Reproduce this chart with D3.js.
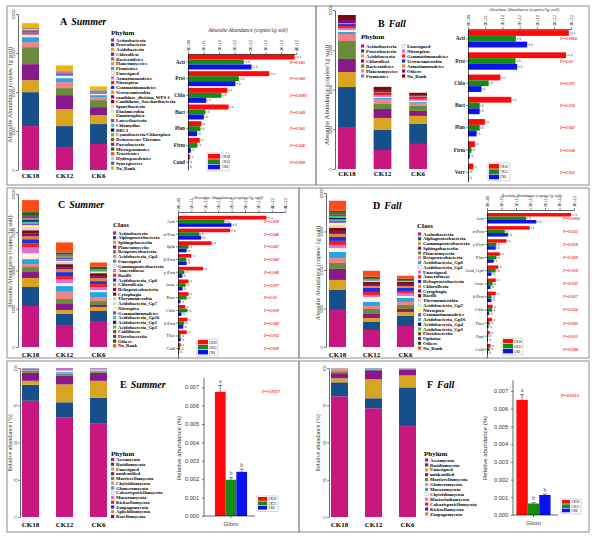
<!DOCTYPE html>
<html><head><meta charset="utf-8">
<script src="https://cdn.jsdelivr.net/npm/d3@7"></script>
<style>body{margin:0;background:#fff}svg{display:block}</style>
</head><body>
<script>
// ================= DATA =================
const samples = ["CK18","CK12","CK6"];
const sigLetters = ["a","b","b"];

// ---- A: Summer, phylum (stacked, x1000 copies/1g soil) ----
const phylaA = ["Actinobacteria","Proteobacteria","Acidobacteria","Chloroflexi","Bacteroidetes","Planctomycetes","Firmicutes","Unassigned","Armatimonadetes","Nitrospirae","Gemmatimonadetes","Verrucomicrobia","candidate_division_WPS-1","Candidatus_Saccharibacteria","Ignavibacteria","Elusimicrobia","Omnitrophica","Latescibacteria","Chlamydiae","BRC1","Cyanobacteria/Chloroplast","Deinococcus-Thermus","Parcubacteria","Microgenomates","Tenericutes","Hydrogenedentes","Synergistetes","No_Rank"];
const A_CK18 = [5.63,4.35,1.54,2.05,2.18,0.64,0.64,0.26,0.10,0.13,0.13,0.08,0.10,0.08,0.05,0.04,0.03,0.04,0.03,0.03,0.03,0.03,0.03,0.02,0.03,0.02,0.02,0.51];
const A_CK12 = [2.94,2.69,2.18,1.79,0.90,0.77,0.51,0.26,0.08,0.10,0.10,0.06,0.06,0.08,0.03,0.02,0.02,0.03,0.02,0.02,0.02,0.02,0.02,0.01,0.02,0.01,0.01,0.64];
const A_CK6  = [3.33,2.56,1.15,1.02,0.90,0.38,0.26,0.13,0.06,0.08,0.08,0.05,0.06,0.05,0.02,0.02,0.02,0.02,0.02,0.02,0.02,0.02,0.02,0.01,0.01,0.01,0.01,0.38];

// ---- B: Fall, phylum ----
const phylaB = ["Actinobacteria","Proteobacteria","Acidobacteria","Chloroflexi","Bacteroidetes","Planctomycetes","Firmicutes","Unassigned","Nitrospirae","Gemmatimonadetes","Verrucomicrobia","Armatimonadetes","Others","No_Rank"];
const B_CK18 = [5.28,5.03,1.89,1.64,2.26,0.88,0.25,0.25,0.25,0.25,0.25,0.13,0.38,0.63];
const B_CK12 = [2.39,2.52,1.51,1.13,0.63,0.63,0.13,0.13,0.19,0.19,0.13,0.06,0.19,0.50];
const B_CK6  = [3.15,2.52,1.01,0.63,0.63,0.38,0.13,0.13,0.19,0.19,0.13,0.06,0.13,0.31];

// ---- C: Summer, class ----
const classC = ["Actinobacteria","Alphaproteobacteria","Sphingobacteriia","Planctomycetia","Betaproteobacteria","Acidobacteria_Gp4","Unassigned","Gammaproteobacteria","Anaerolineae","Bacilli","Acidobacteria_Gp6","Chloroflexia","Deltaproteobacteria","Cytophagia","Thermomicrobia","Acidobacteria_Gp7","Nitrospira","Gemmatimonadetes","Acidobacteria_Gp16","Acidobacteria_Gp1","Acidobacteria_Gp3","Caldilineae","Flavobacteriia","Others","No_Rank"];
const C_CK18 = [5.36,2.48,1.18,0.78,0.65,0.39,0.65,0.78,0.78,0.52,0.52,0.39,0.39,0.39,0.25,0.20,0.22,0.24,0.20,0.22,0.20,0.22,0.23,0.39,1.57];
const C_CK12 = [2.88,1.44,0.52,0.78,0.65,1.05,0.65,0.39,0.52,0.39,0.52,0.39,0.26,0.39,0.16,0.14,0.15,0.14,0.13,0.14,0.14,0.13,0.14,0.26,1.31];
const C_CK6  = [3.40,1.31,0.52,0.26,0.52,0.52,0.65,0.26,0.39,0.39,0.39,0.39,0.26,0.39,0.06,0.06,0.07,0.06,0.06,0.06,0.06,0.06,0.06,0.30,0.55];

// ---- D: Fall, class ----
const classD = ["Actinobacteria","Alphaproteobacteria","Gammaproteobacteria","Sphingobacteriia","Planctomycetia","Betaproteobacteria","Acidobacteria_Gp6","Acidobacteria_Gp1","Unassigned","Anaerolineae","Deltaproteobacteria","Chloroflexia","Cytophagia","Bacilli","Thermomicrobia","Acidobacteria_Gp7","Nitrospira","Gemmatimonadetes","Acidobacteria_Gp16","Acidobacteria_Gp4","Acidobacteria_Gp3","Flavobacteriia","Opitutae","Others","No_Rank"];
const D_CK18 = [4.81,2.60,1.30,1.43,0.78,0.65,0.78,0.52,0.39,0.52,0.52,0.39,0.26,0.52,0.24,0.20,0.22,0.24,0.20,0.22,0.21,0.23,0.20,0.26,1.30];
const D_CK12 = [2.21,1.04,0.52,0.52,0.65,0.39,0.52,0.65,0.26,0.39,0.52,0.26,0.26,0.26,0.05,0.05,0.04,0.05,0.04,0.05,0.04,0.05,0.04,0.26,0.78];
const D_CK6  = [2.73,1.30,0.52,0.39,0.52,0.39,0.52,0.26,0.39,0.26,0.39,0.26,0.26,0.26,0.02,0.02,0.02,0.01,0.02,0.01,0.02,0.01,0.02,0.26,0.39];

// ---- E: Summer, fungi phylum (%) ----
const phylaE = ["Ascomycota","Basidiomycota","Unassigned","unidentified","Mortierellomycota","Chytridiomycota","Glomeromycota","Calcarisporiellomycota","Mucoromycota","Kickxellomycota","Zoopagomycota","Aphelidiomycota","Rozellomycota"];
const E_CK18 = [78,10.7,2.7,5.4,1.3,0.3,1.0,0.1,0.2,0.1,0.1,0.05,0.05];
const E_CK12 = [67,10,12,6,1.3,0.5,0.6,0.8,1.2,0.2,0.2,0.1,0.1];
const E_CK6  = [63,17,11.4,5.4,1.0,0.4,0.3,0.4,0.8,0.1,0.1,0.05,0.05];

// ---- F: Fall, fungi phylum (%) ----
const phylaF = ["Ascomycota","Basidiomycota","Unassigned","unidentified","Mortierellomycota","Glomeromycota","Mucoromycota","Chytridiomycota","Blastocladiomycota","Calcarisporiellomycota","Kickxellomycota","Zoopagomycota"];
const F_CK18 = [81,9.4,2.7,3.4,1.3,1.3,0.3,0.2,0.1,0.1,0.1,0.1];
const F_CK12 = [73,6.7,12.8,6,0.3,0.2,0.8,0.1,0.05,0.02,0.02,0.01];
const F_CK6  = [61,26,8,4,0.4,0.2,0.2,0.1,0.05,0.02,0.02,0.01];

// ---- horizontal bars (E+11 copies/1g soil) ----
const hCatsA = ["Acti","Prot","Chlo","Bact","Plan","Firm","Cand"];
const hA_CK18 = [34.4,26.2,12.7,13.1,4.3,3.8,0.6];
const hA_CK12 = [18.0,16.4,10.8,5.6,4.0,3.0,0.2];
const hA_CK6  = [20.5,15.3,5.9,5.1,2.9,0.9,0.1];
const hA_err  = [[1.2,1.0,0.6,0.6,0.3,0.2,0.1],[0.8,0.7,0.5,0.3,0.3,0.2,0.05],[0.9,0.7,0.3,0.3,0.2,0.1,0.05]];
const pA = ["P=0.043","P=0.049","P=0.0081","P=0.049","P=0.043","P=0.048","P=0.009"];
const ticksA = [0,5,10,15,20,25,30,35];

const hCatsB = ["Acti","Prot","Chlo","Bact","Plan","Firm","Verr"];
const hB_CK18 = [29.3,28.5,9.4,12.6,4.9,2.0,1.5];
const hB_CK12 = [13.9,13.8,6.0,3.4,3.4,1.0,0.2];
const hB_CK6  = [17.2,14.3,3.9,3.4,2.5,0.5,0.2];
const hB_err  = [[1.0,1.0,0.4,0.5,0.3,0.2,0.1],[0.6,0.6,0.3,0.2,0.2,0.1,0.05],[0.7,0.6,0.2,0.2,0.2,0.05,0.05]];
const pB = ["P=0.0002","P=0.02","P=0.007","P=0.032","P=0.047","P=0.038","P=0.012"];
const ticksB = [0,5,10,15,20,25,30];

const hCatsC = ["Acti","α-Prot","Sphi","β-Prot","γ-Prot","Anae","Baci","Chlo","δ-Prot","Ther","Cald"];
const hC_CK18 = [33.0,19.5,12.5,4.9,9.3,3.9,3.9,2.6,3.5,3.2,1.0];
const hC_CK12 = [17.3,8.0,3.9,3.0,2.3,2.8,3.2,3.5,2.2,0.9,0.7];
const hC_CK6  = [19.9,8.6,3.2,3.2,1.6,1.7,0.9,1.3,1.9,1.0,0.3];
const hC_err  = [[1.2,0.8,0.5,0.3,0.4,0.2,0.2,0.2,0.2,0.2,0.1],[0.7,0.4,0.2,0.2,0.2,0.2,0.2,0.2,0.2,0.1,0.1],[0.8,0.4,0.2,0.2,0.1,0.1,0.1,0.1,0.1,0.1,0.05]];
const pC = ["P=0.030","P=0.048","P=0.047","P=0.049","P=0.048","P=0.007","P=0.03","P=0.039","P=0.049","P=0.032","P=0.009"];
const ticksC = [0,5,10,15,20,25,30,35,40];

const hCatsD = ["Acti","α-Prot","γ-Prot","Plan","Acid_Gp6","Anae","δ-Prot","Chlo","Ther","Opti","Cald"];
const hD_CK18 = [29.0,14.7,6.7,4.4,3.8,3.0,3.0,1.9,1.7,0.9,1.2];
const hD_CK12 = [13.5,6.1,3.2,3.2,3.0,1.9,1.5,1.7,0.9,0.4,0.9];
const hD_CK6  = [17.0,7.2,3.0,2.3,1.5,1.2,1.5,0.7,0.5,0.3,0.3];
const hD_err  = [[1.0,0.6,0.3,0.3,0.2,0.2,0.2,0.1,0.1,0.1,0.1],[0.6,0.3,0.2,0.2,0.2,0.1,0.1,0.1,0.1,0.05,0.1],[0.7,0.3,0.2,0.1,0.1,0.1,0.1,0.05,0.05,0.05,0.05]];
const pD = ["P=0.0002","P=0.021","P=0.018","P=0.050","P=0.050","P=0.035","P=0.027","P=0.024","P=0.003","P=0.015","P=0.008"];
const ticksD = [0,5,10,15,20,25,30];

// ---- Glomeromycota relative abundance (%) ----
const glomE = [0.00675,0.00197,0.0024];
const glomE_err = [0.00035,0.00012,0.00015];
const glomF = [0.0065,0.00065,0.00113];
const glomF_err = [0.0003,0.00005,0.00005];
const glomTicks = [0,0.001,0.002,0.003,0.004,0.005,0.006,0.007];

const stackTicks = [0,5,10,15,20];
const pctTicks = [0,25,50,75,100];

// ================= STYLE =================
const palette = ["#C8177E","#174F8C","#D9A422","#88198A","#6A8B3B","#F08585","#22A9E3","#FDF1DC","#DD6FDD","#FF1A1A","#1232EE","#E8832A","#7D0F7D","#7A0C0C","#F4C4C8","#B3E8EE","#FFFF3C","#8A3EDD","#3FCAA4","#0C0C78","#36CC36","#8A4A1C","#7D2C8D","#0D6A1C","#FF4B16","#B0C6EE","#3A66DE","#F3B400"];
const seriesColors = ["#FF0A0A","#158A15","#0A12F0"];
const SERIF = "'Liberation Serif','Times New Roman',serif";
const SANS = "'Liberation Sans',Arial,sans-serif";

const svg = d3.select("body").append("svg").attr("width",600).attr("height",542)
  .style("font-family",SERIF);

// panel frames
[[7,6,309,179],[316,6,273,179],[7,188,292,170],[299,188,290,170],[7,361,292,171],[299,361,290,171]]
 .forEach(b=>svg.append("rect").attr("x",b[0]).attr("y",b[1]).attr("width",b[2]).attr("height",b[3])
   .attr("fill","none").attr("stroke","#8c8c8c").attr("stroke-width",1));

function sci(v){
  if(v===0) return "0E+00";
  const s = v.toExponential(0).split("e");
  const ex = parseInt(s[1]);
  return s[0]+"E"+(ex<0?"-":"+")+String(Math.abs(ex)).padStart(2,"0");
}

function styleAxis(ax){
  ax.select(".domain").attr("stroke","#000").attr("stroke-width",0.6);
  ax.selectAll(".tick line").attr("stroke","#000").attr("stroke-width",0.5);
}

// ----- stacked bar panel -----
function stacked(c){
  const g = svg.append("g");
  const x = d3.scaleBand().domain(samples).range(c.xr).paddingInner(0.5).paddingOuter(0);
  const y = d3.scaleLinear().domain([0,c.max]).range(c.yr);
  const table = samples.map((s,i)=>{const o={sample:s}; c.names.forEach((n,j)=>o[n]=c.rows[i][j]); return o;});
  const st = d3.stack().keys(c.names)(table);
  g.selectAll("g.layer").data(st).join("g").attr("fill",(d,i)=>palette[i])
    .selectAll("rect").data(d=>d).join("rect")
    .attr("x",d=>x(d.data.sample)).attr("width",x.bandwidth())
    .attr("y",d=>y(d[1])).attr("height",d=>Math.max(0,y(d[0])-y(d[1])));
  const ax = g.append("g").attr("transform",`translate(${c.axisX},0)`)
    .call(d3.axisLeft(y).tickValues(c.ticks).tickSize(2).tickSizeOuter(0).tickFormat(""));
  styleAxis(ax);
  ax.selectAll(".tick").append("text").attr("transform","translate(-3.5,0) rotate(-90)")
    .attr("text-anchor","middle").attr("fill","#222").style("font-size","3.6px")
    .text(d=>c.fmt(d));
  g.append("text").attr("transform",`translate(${c.labelX},${c.labelY}) rotate(-90)`)
    .attr("text-anchor","middle").style("font-size",c.labelSize+"px").attr("fill","#333")
    .text(c.label);
  g.selectAll("text.cat").data(samples).join("text")
    .attr("x",d=>x(d)+x.bandwidth()/2).attr("y",c.catY).attr("text-anchor","middle")
    .style("font-size","7px").style("font-weight","bold").text(d=>d);
}

// ----- legend -----
function legend(names, x, y0, step, size, tx, offset){
  const g = svg.append("g");
  const items = g.selectAll("g").data(names).join("g")
    .attr("transform",(d,i)=>`translate(${x},${y0+i*step})`);
  items.append("rect").attr("x",0).attr("y",-1.6).attr("width",3.2).attr("height",3.2)
    .attr("fill",(d,i)=>palette[i+(offset||0)])
    .attr("stroke",(d,i)=>palette[i+(offset||0)]==="#FDF1DC"?"#999":"none").attr("stroke-width",0.3);
  items.append("text").attr("x",tx).attr("dy","0.35em").style("font-size",size+"px")
    .style("font-weight","bold").text(d=>d);
}
function title(x,y,letter,season){
  const t = svg.append("text").attr("x",x).attr("y",y).style("font-size","10px").style("font-weight","bold");
  t.append("tspan").text(letter);
  t.append("tspan").attr("dx",4).style("font-style","italic").text(season);
}
function legTitle(x,y,txt){
  svg.append("text").attr("x",x).attr("y",y).style("font-size","7px").style("font-weight","bold").text(txt);
}
function seriesLegend(x,y,sw,sh,tx,bw,fs){
  const g = svg.append("g");
  g.append("rect").attr("x",x-1).attr("y",y-1).attr("width",bw).attr("height",sh*3+2)
    .attr("fill","#fff").attr("stroke","#999").attr("stroke-width",0.4);
  samples.forEach((s,i)=>{
    g.append("rect").attr("x",x).attr("y",y+i*sh).attr("width",sw).attr("height",sh-0.6).attr("fill",seriesColors[i]);
    g.append("text").attr("x",x+tx).attr("y",y+i*sh+sh/2).attr("dy","0.35em").style("font-size",fs+"px").text(s);
  });
}

// ----- horizontal grouped bar panel -----
function hbar(c){
  const g = svg.append("g");
  const x = d3.scaleLinear().domain([0,c.ticks[c.ticks.length-1]]).range([c.x0,c.x1]);
  const y0 = d3.scaleBand().domain(c.cats).range(c.yr).paddingInner(c.pi).paddingOuter(c.po);
  const y1 = d3.scaleBand().domain(samples).range([0,y0.bandwidth()]);
  const flat = [];
  c.series.forEach((vals,si)=>vals.forEach((v,ci)=>flat.push({cat:c.cats[ci],s:samples[si],si,v,e:c.err[si][ci]})));
  g.selectAll("rect.b").data(flat).join("rect").attr("class","b")
    .attr("x",x(0)).attr("y",d=>y0(d.cat)+y1(d.s)).attr("width",d=>x(d.v)-x(0))
    .attr("height",y1.bandwidth()).attr("fill",d=>seriesColors[d.si]);
  const eb = g.selectAll("g.e").data(flat).join("g").attr("class","e")
    .attr("transform",d=>`translate(0,${y0(d.cat)+y1(d.s)+y1.bandwidth()/2})`);
  eb.append("line").attr("x1",d=>x(d.v)).attr("x2",d=>x(d.v+d.e)).attr("stroke","#555").attr("stroke-width",0.4);
  eb.append("line").attr("x1",d=>x(d.v+d.e)).attr("x2",d=>x(d.v+d.e)).attr("y1",-1).attr("y2",1).attr("stroke","#555").attr("stroke-width",0.4);
  eb.append("text").attr("x",d=>x(d.v+d.e)+1.5).attr("dy","0.35em").style("font-size","3.3px").attr("fill","#333")
    .text(d=>sigLetters[d.si]);
  const ax = g.append("g").attr("transform",`translate(0,${c.yr[0]})`)
    .call(d3.axisTop(x).tickValues(c.ticks).tickSize(2).tickSizeOuter(0).tickFormat(""));
  styleAxis(ax);
  ax.selectAll(".tick").append("text").attr("transform","translate(0,-3) rotate(-90)")
    .attr("dy","0.35em").attr("text-anchor","start").attr("fill","#222").style("font-size","3.8px")
    .text(d=>sci(d*1e11));
  const ay = g.append("g").attr("transform",`translate(${c.x0},0)`)
    .call(d3.axisLeft(y0).tickSize(2).tickSizeOuter(0));
  styleAxis(ay);
  ay.selectAll(".tick text").attr("x",-3).style("font-size",c.catSize+"px").style("font-family",SERIF)
    .style("font-weight",c.catBold?"bold":"normal").attr("fill","#222");
  g.append("text").attr("x",c.titleX).attr("y",c.titleY).attr("text-anchor","middle")
    .style("font-size",c.titleSize+"px").style("font-style","italic").attr("fill","#222").text(c.title);
  g.selectAll("text.p").data(c.p).join("text").attr("class","p")
    .attr("x",c.px).attr("y",(d,i)=>y0(c.cats[i])+y0.bandwidth()/2).attr("dy","0.35em")
    .style("font-size","4.4px").style("font-style","italic").style("font-weight","bold")
    .attr("fill","#FF3030").text(d=>d);
}

// ----- Glom bar chart -----
function glom(c){
  const g = svg.append("g").style("font-family",SANS);
  const y = d3.scaleLinear().domain([0,c.max]).range([c.yb,c.yt]);
  const xo = d3.scaleBand().domain(["Glom"]).range(c.xr).paddingInner(0).paddingOuter(c.po);
  const xi = d3.scaleBand().domain(samples).range([0,xo.bandwidth()]);
  const data = samples.map((s,i)=>({s,i,v:c.vals[i],e:c.err[i]}));
  g.selectAll("rect").data(data).join("rect")
    .attr("x",d=>xo("Glom")+xi(d.s)).attr("width",xi.bandwidth())
    .attr("y",d=>y(d.v)).attr("height",d=>c.yb-y(d.v)).attr("fill",d=>seriesColors[d.i]);
  const cx = d=>xo("Glom")+xi(d.s)+xi.bandwidth()/2;
  g.selectAll("line.e").data(data).join("line").attr("x1",cx).attr("x2",cx)
    .attr("y1",d=>y(d.v)).attr("y2",d=>y(d.v+d.e)).attr("stroke","#333").attr("stroke-width",0.6);
  g.selectAll("line.c").data(data).join("line").attr("x1",d=>cx(d)-2).attr("x2",d=>cx(d)+2)
    .attr("y1",d=>y(d.v+d.e)).attr("y2",d=>y(d.v+d.e)).attr("stroke","#333").attr("stroke-width",0.6);
  g.selectAll("text.l").data(data).join("text").attr("x",cx).attr("y",d=>y(d.v+d.e)-2.5)
    .attr("text-anchor","middle").style("font-size","6px").attr("fill","#333").style("font-family",SERIF)
    .text(d=>sigLetters[d.i]);
  const ay = g.append("g").attr("transform",`translate(${c.ax},0)`)
    .call(d3.axisLeft(y).tickValues(glomTicks).tickFormat(d3.format(".3f")).tickSize(2).tickSizeOuter(0));
  styleAxis(ay);
  ay.select(".domain").attr("d",`M0,${c.yb}V${c.yt}`);
  ay.selectAll(".tick text").style("font-size","5.6px").attr("fill","#333");
  g.append("line").attr("x1",c.ax).attr("x2",c.xEnd).attr("y1",c.yb).attr("y2",c.yb).attr("stroke","#000").attr("stroke-width",0.6);
  const mx = xo("Glom")+xo.bandwidth()/2;
  g.append("line").attr("x1",mx).attr("x2",mx).attr("y1",c.yb).attr("y2",c.yb+2).attr("stroke","#000").attr("stroke-width",0.5);
  g.append("text").attr("x",mx).attr("y",c.yb+10).attr("text-anchor","middle").style("font-size","6.2px").attr("fill","#333").text("Glom");
  g.append("text").attr("transform",`translate(${c.labelX},${c.labelY}) rotate(-90)`).attr("text-anchor","middle")
    .style("font-size","6px").attr("fill","#333").text("Relative abundance (%)");
  g.append("text").attr("x",c.px).attr("y",c.py).attr("text-anchor","middle").style("font-family",SERIF)
    .style("font-size","4.6px").style("font-style","italic").style("font-weight","bold").attr("fill","#FF3030").text(c.p);
}

const kfmt = d=>String(d*1000);
const pfmt = d=>String(d);

// ================= PANEL A =================
stacked({names:phylaA, rows:[A_CK18,A_CK12,A_CK6], max:20, ticks:stackTicks, fmt:kfmt,
  xr:[22,107], yr:[170,14], axisX:18, label:"Absoulte Abundance (copies/1g soil)", labelX:12, labelY:95, labelSize:6.5, catY:178});
title(60,25,"A","Summer");
legTitle(111,35,"Phylum");
legend(phylaA,111,40,4.74,4.7,5);
hbar({cats:hCatsA, series:[hA_CK18,hA_CK12,hA_CK6], err:hA_err, ticks:ticksA, x0:188, x1:296.5,
  yr:[54,170], pi:0.1, po:0.03, catSize:5.2, catBold:true,
  title:"Absoulte Abundance (copies/1g soil)", titleX:248, titleY:32, titleSize:5.4, p:pA, px:290});
seriesLegend(208,154,12,5.3,14,22,3.3);

// ================= PANEL B =================
stacked({names:phylaB, rows:[B_CK18,B_CK12,B_CK6], max:20, ticks:stackTicks, fmt:kfmt,
  xr:[338,427], yr:[169,10], axisX:335, label:"Absoulte Abundance (copies/1g soil)", labelX:329, labelY:95, labelSize:6.8, catY:176});
title(378,27,"B","Fall");
legTitle(361,39,"Phylum");
legend(phylaB.slice(0,7),361,46,5,4.8,5);
legend(phylaB.slice(7),402,46,5,4.8,5,7);
hbar({cats:hCatsB, series:[hB_CK18,hB_CK12,hB_CK6], err:hB_err, ticks:ticksB, x0:468, x1:571.2,
  yr:[29,182], pi:0.22, po:0.05, catSize:5.2, catBold:true,
  title:"Absolute Abundance (copies/1g soil)", titleX:524, titleY:11, titleSize:4.8, p:pB, px:560});
seriesLegend(489,164,10,5.3,11,22,3.3);

// ================= PANEL C =================
stacked({names:classC, rows:[C_CK18,C_CK12,C_CK6], max:20, ticks:stackTicks, fmt:kfmt,
  xr:[22,107], yr:[347,194], axisX:18, label:"Absoulte Abundance (copies/1g soil)", labelX:12, labelY:262, labelSize:6.3, catY:357});
title(58,208,"C","Summer");
legTitle(113,227,"Class");
legend(classC,113,233,4.7,4.7,5);
hbar({cats:hCatsC, series:[hC_CK18,hC_CK12,hC_CK6], err:hC_err, ticks:ticksC, x0:178, x1:285.2,
  yr:[212,358], pi:0.13, po:0.3, catSize:4.6, catBold:false,
  title:"Absoulte Abundance (copies/1g soil)", titleX:228, titleY:199, titleSize:4.8, p:pC, px:264});
seriesLegend(198,340,10,5,11,21,3.2);

// ================= PANEL D =================
stacked({names:classD, rows:[D_CK18,D_CK12,D_CK6], max:20, ticks:stackTicks, fmt:kfmt,
  xr:[329,414], yr:[347,193], axisX:326, label:"Absoulte Abundance (copies/ 1g soil)", labelX:320, labelY:273, labelSize:6.3, catY:357});
title(373,209,"D","Fall");
legTitle(417,228,"Class");
legend(classD,418,234,4.75,4.8,5);
hbar({cats:hCatsD, series:[hD_CK18,hD_CK12,hD_CK6], err:hD_err, ticks:ticksD, x0:487, x1:574,
  yr:[210,357.5], pi:0.2, po:0.23, catSize:4.6, catBold:false,
  title:"Absolute Abundance (copies/1g soil)", titleX:531, titleY:197, titleSize:4.2, p:pD, px:563});
seriesLegend(503,339,10,5,11,21,3.2);

// ================= PANEL E =================
stacked({names:phylaE, rows:[E_CK18,E_CK12,E_CK6], max:100, ticks:pctTicks, fmt:pfmt,
  xr:[22,107], yr:[517,368], axisX:20, label:"Relative abundance (%)", labelX:12, labelY:443, labelSize:6, catY:527});
title(120,388,"E","Summer");
legTitle(111,456,"Phylum");
legend(phylaE,111,459.5,4.75,4.7,5);
glom({vals:glomE, err:glomE_err, max:0.0075, yb:516, yt:378, xr:[204,258], po:0.34, ax:204, xEnd:255,
  labelX:181, labelY:448, px:271, py:393, p:"P=0.0017"});
seriesLegend(258,497,9,4.4,10.5,21,3.2);

// ================= PANEL F =================
stacked({names:phylaF, rows:[F_CK18,F_CK12,F_CK6], max:100, ticks:pctTicks, fmt:pfmt,
  xr:[331,416], yr:[517,368], axisX:329, label:"Relative abundance (%)", labelX:320, labelY:443, labelSize:6, catY:527});
title(427,388,"F","Fall");
legTitle(424,456,"Phylum");
legend(phylaF,425,460,4.9,4.7,5);
glom({vals:glomF, err:glomF_err, max:0.0076, yb:515, yt:380.4, xr:[513,554], po:0.1, ax:513, xEnd:558,
  labelX:487, labelY:448, px:570, py:397, p:"P=0.0013"});
seriesLegend(562,500,8,4.3,9.5,20,3.2);
</script>
</body></html>
